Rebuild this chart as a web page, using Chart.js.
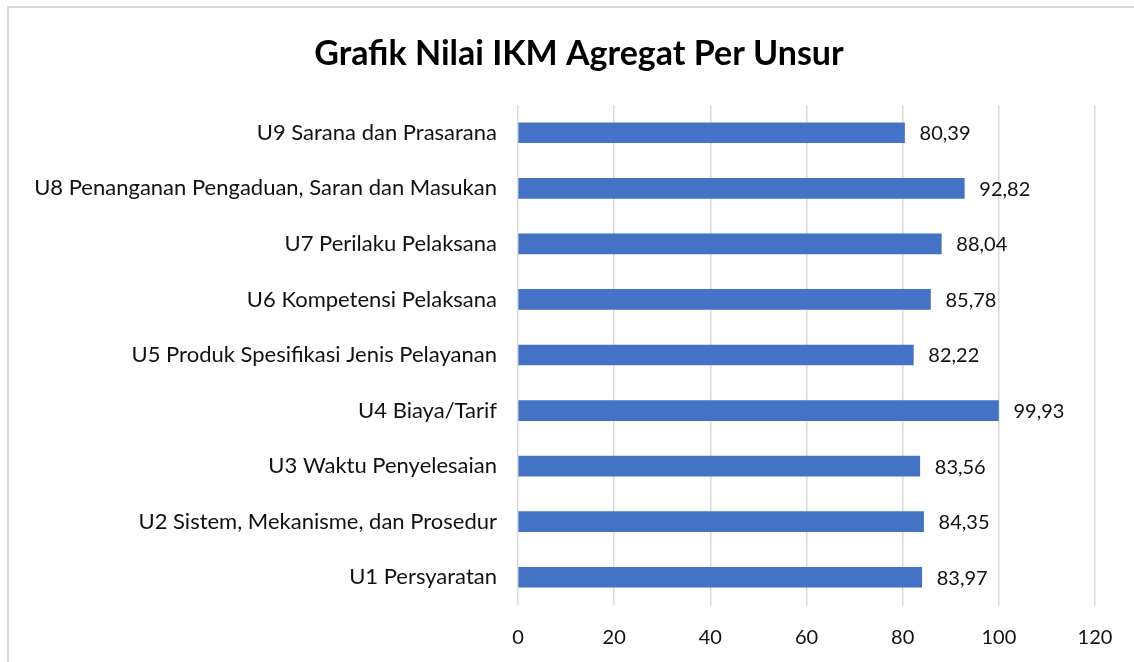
<!DOCTYPE html>
<html lang="id">

<head>
    <meta charset="UTF-8">
    <title>Grafik Nilai IKM Agregat Per Unsur</title>
    <script src="https://cdn.jsdelivr.net/npm/chart.js"></script>
    <style>
        html, body { margin: 0; padding: 0; background: #fff; overflow: hidden; }
        .bingkai {
            position: absolute; left: 7px; top: 6px; width: 1300px; height: 800px;
            border: 2px solid #d9d9d9; box-sizing: border-box;
        }
        .grafik { position: absolute; left: 0; top: 0; width: 1158px; height: 662px; }
    </style>
</head>

<body>
    <div class="bingkai"></div>
    <div class="grafik">
        <canvas id="graficoIKM"></canvas>
    </div>
</body>

</html>
<script>
    // dados (de cima para baixo)
    const unsur = [
        'U9 Sarana dan Prasarana',
        'U8 Penanganan Pengaduan, Saran dan Masukan',
        'U7 Perilaku Pelaksana',
        'U6 Kompetensi Pelaksana',
        'U5 Produk Spesifikasi Jenis Pelayanan',
        'U4 Biaya/Tarif',
        'U3 Waktu Penyelesaian',
        'U2 Sistem, Mekanisme, dan Prosedur',
        'U1 Persyaratan'
    ];
    const nilai = [80.39, 92.82, 88.04, 85.78, 82.22, 99.93, 83.56, 84.35, 83.97];
    const ticksX = [0, 20, 40, 60, 80, 100, 120];
    const judul = 'Grafik Nilai IKM Agregat Per Unsur';

    const fonte = 'Lato, "Open Sans", sans-serif';

    // título centrado na largura toda do gráfico + rótulos de valor
    const rotulos = {
        id: 'rotulos',
        afterDatasetsDraw(chart) {
            const ctx = chart.ctx;
            const meta = chart.getDatasetMeta(0);
            ctx.save();
            ctx.font = '20px ' + fonte;
            ctx.fillStyle = '#111';
            ctx.textAlign = 'left';
            ctx.textBaseline = 'middle';
            meta.data.forEach((barra, i) => {
                const txt = nilai[i].toFixed(2).replace('.', ',');
                ctx.fillText(txt, barra.x + 15, barra.y + 1);
            });

            ctx.font = 'bold 34px ' + fonte;
            ctx.fillStyle = '#000';
            ctx.textAlign = 'center';
            ctx.fillText(judul, chart.width / 2, 54);
            ctx.restore();
        }
    };

    const ctx = document.getElementById('graficoIKM').getContext('2d');
    window.graficoIKM = new Chart(ctx, {
        type: 'bar',
        data: {
            labels: unsur,
            datasets: [{
                label: 'Nilai',
                data: nilai,
                backgroundColor: '#4472C4',
                barThickness: 20
            }]
        },
        options: {
            indexAxis: 'y',
            responsive: true,
            maintainAspectRatio: false,
            animation: false,
            layout: { padding: { left: 0, right: 63, top: 105, bottom: 0 } },
            plugins: {
                legend: { display: false },
                tooltip: { enabled: false },
                title: { display: false }
            },
            scales: {
                x: {
                    min: 0,
                    max: 120,
                    afterBuildTicks: (escala) => { escala.ticks = ticksX.map(v => ({ value: v })); },
                    afterFit: (escala) => { escala.height = 57; },
                    grid: { color: '#d9d9d9', lineWidth: 1.5, drawTicks: false },
                    border: { display: false },
                    ticks: { color: '#111', padding: 21, font: { family: fonte, size: 20 } }
                },
                y: {
                    afterFit: (escala) => { escala.width = 518; },
                    grid: { display: false, drawTicks: false },
                    border: { display: false },
                    ticks: { color: '#111', padding: 21, font: { family: fonte, size: 22 } }
                }
            }
        },
        plugins: [rotulos]
    });
</script>
